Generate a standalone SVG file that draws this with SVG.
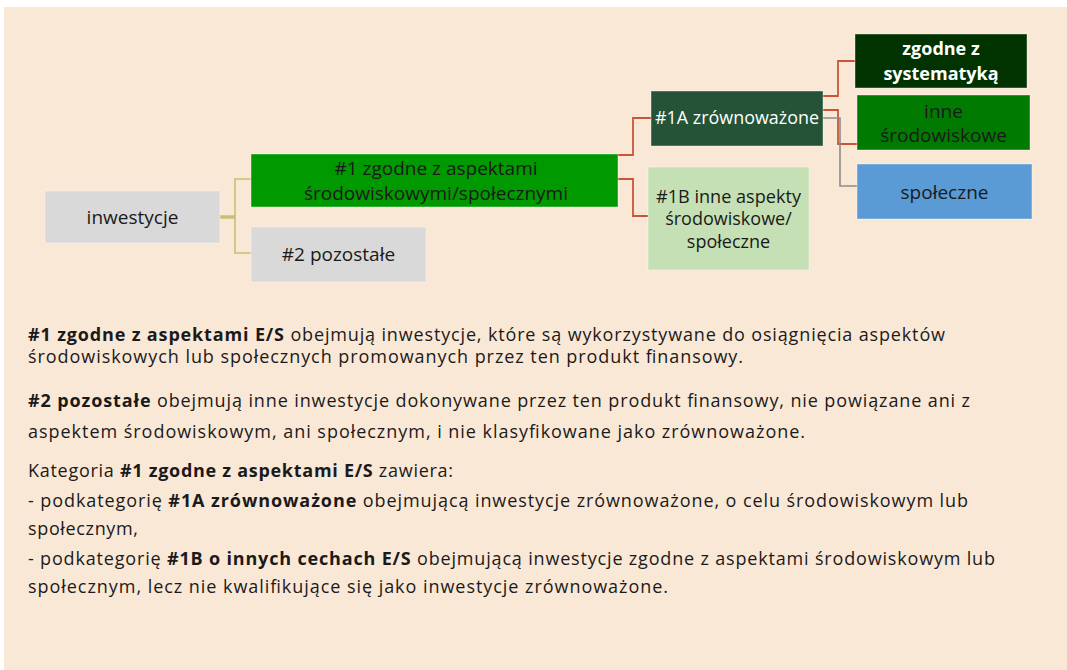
<svg xmlns="http://www.w3.org/2000/svg" width="1067" height="670" viewBox="0 0 1067 670">
<style>
.t{font-family:"Open Sans","Noto Sans",sans-serif;font-size:18px;fill:#1a1a1a}
.n{font-family:"Open Sans","Noto Sans",sans-serif;font-size:19px;fill:#1a1a1a;text-anchor:middle}
.s{font-size:18px}
.w{fill:#ffffff}
.b{font-weight:bold}
.ol{fill:none;stroke:#C8BF73;stroke-width:1.6}
.rd{fill:none;stroke:#C8553A;stroke-width:1.8}
.gy{fill:none;stroke:#8C8C8C;stroke-width:1.6}
.box{stroke:#ffffff;stroke-opacity:0.4;stroke-width:1}
</style>
<rect x="0" y="0" width="1067" height="670" fill="#ffffff"/>
<rect x="4" y="7" width="1063" height="663" fill="#FAE8D7"/>
<g id="connectors">
<line x1="220" y1="217" x2="235" y2="217" stroke="#C8BF73" stroke-width="3.5"/>
<polyline class="ol" points="251,179 235,179 235,253 251,253"/>
<polyline class="rd" points="618,155 633,155 633,118 651,118"/>
<polyline class="rd" points="618,179 633,179 633,216 648,216"/>
<polyline class="rd" points="823,96 838,96 838,61 855,61"/>
<polyline class="rd" points="823,110 838,110 838,144 857,144"/>
<polyline class="gy" points="823,118 840,118 840,186 857,186"/>
</g>
<g id="n-inwestycje">
<rect class="box" x="45" y="191" width="175" height="52" fill="#D9D9D9"/>
<text class="n" x="132.5" y="224">inwestycje</text>
</g>
<g id="n-1">
<rect class="box" x="251" y="154" width="367" height="53" fill="#009900"/>
<text class="n" x="436" y="175">#1 zgodne z aspektami</text>
<text class="n" x="436" y="200">środowiskowymi/społecznymi</text>
</g>
<g id="n-2">
<rect class="box" x="251" y="227" width="175" height="55" fill="#D9D9D9"/>
<text class="n" x="338.5" y="261">#2 pozostałe</text>
</g>
<g id="n-1A">
<rect class="box" x="651" y="91" width="172" height="55" fill="#245337"/>
<text class="n w" x="737" y="124" textLength="164" lengthAdjust="spacingAndGlyphs">#1A zrównoważone</text>
</g>
<g id="n-1B">
<rect class="box" x="648" y="167" width="161" height="103" fill="#C5E0B4"/>
<text class="n s" x="728.5" y="203" textLength="145" lengthAdjust="spacingAndGlyphs">#1B inne aspekty</text>
<text class="n s" x="728.5" y="225">środowiskowe/</text>
<text class="n s" x="728.5" y="248">społeczne</text>
</g>
<g id="n-systematyka">
<rect class="box" x="855" y="34" width="172" height="54" fill="#003300"/>
<text class="n w b s" x="941" y="55">zgodne z</text>
<text class="n w b s" x="941" y="80">systematyką</text>
</g>
<g id="n-inne">
<rect class="box" x="857" y="95" width="173" height="55" fill="#007A00"/>
<text class="n" x="943.5" y="118">inne</text>
<text class="n" x="943.5" y="142">środowiskowe</text>
</g>
<g id="n-spoleczne">
<rect class="box" x="857" y="164" width="175" height="55" fill="#5B9BD5"/>
<text class="n" x="944.5" y="199">społeczne</text>
</g>
<g id="description">
<text class="t" x="28" y="341" textLength="917"><tspan class="b">#1 zgodne z aspektami E/S</tspan> obejmują inwestycje, które są wykorzystywane do osiągnięcia aspektów</text>
<text class="t" x="28" y="363" textLength="715">środowiskowych lub społecznych promowanych przez ten produkt finansowy.</text>
<text class="t" x="28" y="407" textLength="942"><tspan class="b">#2 pozostałe</tspan> obejmują inne inwestycje dokonywane przez ten produkt finansowy, nie powiązane ani z</text>
<text class="t" x="28" y="438" textLength="777">aspektem środowiskowym, ani społecznym, i nie klasyfikowane jako zrównoważone.</text>
<text class="t" x="28" y="477" textLength="425">Kategoria <tspan class="b">#1 zgodne z aspektami E/S</tspan> zawiera:</text>
<text class="t" x="28" y="507" textLength="940">- podkategorię <tspan class="b">#1A zrównoważone</tspan> obejmującą inwestycje zrównoważone, o celu środowiskowym lub</text>
<text class="t" x="28" y="535" textLength="110">społecznym,</text>
<text class="t" x="28" y="565" textLength="967">- podkategorię <tspan class="b">#1B o innych cechach E/S</tspan> obejmującą inwestycje zgodne z aspektami środowiskowym lub</text>
<text class="t" x="28" y="593" textLength="640">społecznym, lecz nie kwalifikujące się jako inwestycje zrównoważone.</text>
</g>
</svg>
